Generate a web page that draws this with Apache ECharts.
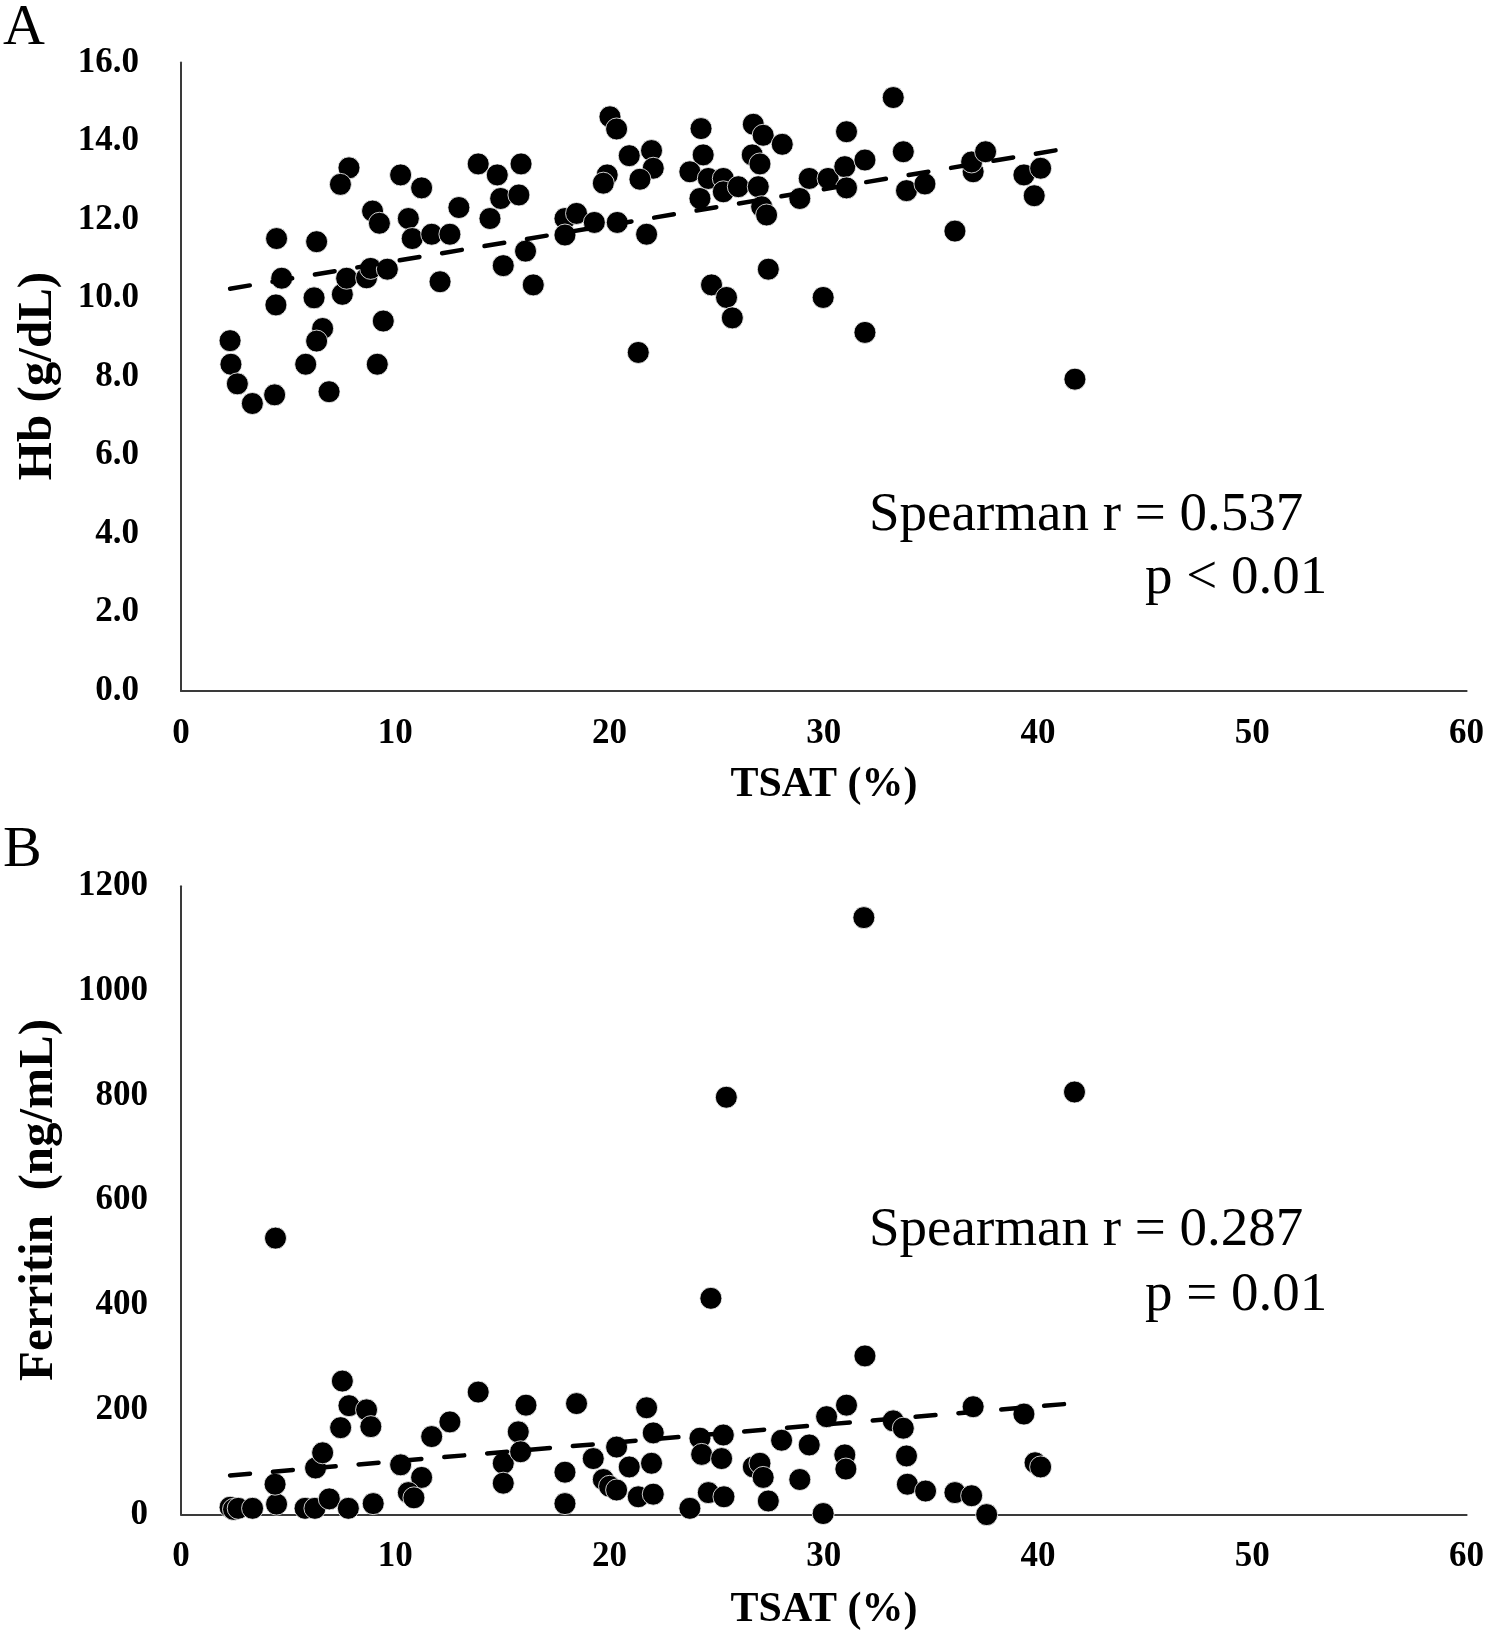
<!DOCTYPE html>
<html>
<head>
<meta charset="utf-8">
<script src="https://cdn.jsdelivr.net/npm/echarts@6/dist/echarts.min.js"></script>
<style>
html,body{margin:0;padding:0;background:#fff;}
#chart{width:1489px;height:1636px;}
</style>
</head>
<body>
<div id="chart"></div>
<script>
// Panel A: TSAT (%) vs Hb (g/dL)
const tsatA = [2.29,2.33,2.63,3.33,4.37,4.46,4.70,4.43,6.33,6.21,6.61,6.33,5.82,6.91,7.84,7.44,7.53,7.73,8.94,9.26,
  8.66,8.85,9.63,9.44,9.16,10.25,11.23,10.61,10.79,11.70,12.55,12.97,12.09,13.87,14.76,14.92,14.42,15.04,15.87,15.77,
  16.08,16.44,17.92,17.92,18.46,19.29,20.02,20.33,19.89,19.71,20.36,20.92,21.96,22.04,21.42,21.73,21.34,24.27,24.37,23.75,
  24.22,24.61,25.31,25.31,26.01,24.76,25.46,25.73,26.71,27.17,28.06,26.66,27.02,26.94,27.10,27.33,27.41,28.88,29.32,29.97,
  30.20,31.06,30.98,31.06,31.92,33.24,33.71,33.86,34.72,36.12,36.97,36.90,37.55,39.34,40.12,39.82,31.92,41.72];
const hb = [8.92,8.32,7.82,7.32,7.54,11.52,10.51,9.83,11.44,10.01,9.23,8.91,8.32,7.62,13.32,12.90,10.10,10.51,12.22,11.91,
  10.52,10.76,10.74,9.42,8.32,13.14,12.81,12.03,11.52,11.63,11.63,12.31,10.42,13.42,13.14,12.54,12.03,10.83,13.42,12.63,
  11.20,10.34,12.03,11.61,12.16,11.93,14.62,14.31,13.14,12.93,11.93,13.63,13.76,13.31,13.03,11.63,8.62,14.32,13.65,13.22,
  12.54,13.05,13.05,12.71,12.84,10.34,10.02,9.50,14.43,14.15,13.92,13.65,13.42,12.84,12.33,12.12,10.74,12.54,13.05,10.02,
  13.05,14.24,13.35,12.81,13.52,15.11,13.73,12.74,12.91,11.71,13.22,13.47,13.73,13.14,13.31,12.61,9.13,7.94];

// Panel B: TSAT (%) vs Ferritin (ng/mL)
const tsatB = [2.29,2.45,2.67,3.34,4.46,4.39,4.41,5.79,6.25,6.92,7.81,8.97,6.28,6.61,7.45,7.53,7.84,8.66,8.86,10.25,
  11.23,10.61,10.87,11.70,12.55,13.87,15.04,15.04,16.10,15.74,15.85,17.92,17.92,18.46,19.24,19.71,20.00,20.33,20.33,20.92,
  21.34,21.96,22.04,21.73,22.04,23.75,24.22,24.30,24.61,25.31,25.23,25.34,24.73,25.45,26.71,27.02,27.17,27.41,28.03,28.88,
  29.32,29.97,30.13,31.06,30.98,31.03,31.92,31.87,33.24,33.71,33.86,33.90,34.75,36.12,36.90,37.60,36.97,39.34,39.86,40.12,41.70];
const ferritin = [14,10,12,12,20,58,528,12,12,30,12,21,89,118,166,255,208,200,168,95,
  71,42,32,149,177,234,98,60,209,158,120,81,21,212,107,67,54,47,129,91,
  34,98,39,204,156,12,146,115,42,152,107,34,413,797,91,98,71,26,142,67,
  133,2,187,209,114,87,303,1140,179,165,112,58,45,42,36,0,206,192,99,91,807];

const xTicksMax = 60, xTickStep = 10;
const hbMax = 16, hbStep = 2;
const ferMax = 1200, ferStep = 200;

function pairs(xs, ys){ return xs.map((x,i)=>[x, ys[i]]); }
function trend(xs, ys){
  const n = xs.length;
  const mx = xs.reduce((a,b)=>a+b,0)/n, my = ys.reduce((a,b)=>a+b,0)/n;
  let sxy=0, sxx=0;
  for(let i=0;i<n;i++){ sxy += (xs[i]-mx)*(ys[i]-my); sxx += (xs[i]-mx)*(xs[i]-mx); }
  const b = sxy/sxx, a = my - b*mx;
  const x0 = Math.min(...xs), x1 = Math.max(...xs);
  return [[x0, a+b*x0],[x1, a+b*x1]];
}

const SERIF = '"Liberation Serif","Times New Roman",serif';
const axisLine = {show:true, lineStyle:{color:'#3a3a3a', width:2}};
const lab = (margin, fmt) => ({fontFamily:SERIF, fontWeight:'bold', fontSize:35, color:'#000', margin:margin, formatter:fmt});

function xAx(gi){
  return {gridIndex:gi, type:'value', min:0, max:xTicksMax, interval:xTickStep,
    axisLine:axisLine, axisTick:{show:false}, splitLine:{show:false}, axisLabel:lab(25, v=>String(v))};
}

const chart = echarts.init(document.getElementById('chart'), null, {renderer:'canvas'});
const dot = {symbol:'circle', symbolSize:22, itemStyle:{color:'#000', opacity:1, borderColor:'#fff', borderWidth:0.8}};
const dash = {type:'line', showSymbol:false, symbol:'none', z:5, silent:true,
  lineStyle:{color:'#000', width:4.5, type:[20,23], cap:'round', opacity:1}};

chart.setOption({
  backgroundColor:'#fff',
  animation:false,
  grid:[
    {left:181, top:62.6, width:1285.6, height:628.4},
    {left:181, top:886.2, width:1285.6, height:628.4}
  ],
  xAxis:[xAx(0), xAx(1)],
  yAxis:[
    {gridIndex:0, type:'value', min:0, max:hbMax, interval:hbStep, axisLine:axisLine, axisTick:{show:false},
      splitLine:{show:false}, axisLabel:lab(42, v=>v.toFixed(1))},
    {gridIndex:1, type:'value', min:0, max:ferMax, interval:ferStep, axisLine:axisLine, axisTick:{show:false},
      splitLine:{show:false}, axisLabel:lab(33, v=>String(v))}
  ],
  series:[
    Object.assign({type:'scatter', xAxisIndex:0, yAxisIndex:0, data:pairs(tsatA, hb)}, dot),
    Object.assign({xAxisIndex:0, yAxisIndex:0, data:trend(tsatA, hb)}, dash),
    Object.assign({type:'scatter', xAxisIndex:1, yAxisIndex:1, data:pairs(tsatB, ferritin)}, dot),
    Object.assign({xAxisIndex:1, yAxisIndex:1, data:trend(tsatB, ferritin)}, dash)
  ],
  graphic:[
    {type:'text', left:3, top:0, style:{text:'A', font:'58px '+SERIF, fill:'#000'}},
    {type:'text', left:3, top:822, style:{text:'B', font:'58px '+SERIF, fill:'#000'}},
    {type:'text', x:38, y:376, rotation:Math.PI/2, style:{text:'Hb (g/dL)', font:'bold 49px '+SERIF, fill:'#000', align:'center', verticalAlign:'middle'}},
    {type:'text', x:39, y:1200, rotation:Math.PI/2, style:{text:'Ferritin  (ng/mL)', font:'bold 49px '+SERIF, fill:'#000', align:'center', verticalAlign:'middle'}},
    {type:'text', x:824, y:785, style:{text:'TSAT (%)', font:'bold 42px '+SERIF, fill:'#000', align:'center', verticalAlign:'middle'}},
    {type:'text', x:824, y:1610, style:{text:'TSAT (%)', font:'bold 42px '+SERIF, fill:'#000', align:'center', verticalAlign:'middle'}},
    {type:'text', x:869, y:516, style:{text:'Spearman r = 0.537', font:'55px '+SERIF, fill:'#000', align:'left', verticalAlign:'middle'}},
    {type:'text', x:1145, y:579, style:{text:'p < 0.01', font:'55px '+SERIF, fill:'#000', align:'left', verticalAlign:'middle'}},
    {type:'text', x:869, y:1231, style:{text:'Spearman r = 0.287', font:'55px '+SERIF, fill:'#000', align:'left', verticalAlign:'middle'}},
    {type:'text', x:1145, y:1296, style:{text:'p = 0.01', font:'55px '+SERIF, fill:'#000', align:'left', verticalAlign:'middle'}}
  ]
});
</script>
</body>
</html>
